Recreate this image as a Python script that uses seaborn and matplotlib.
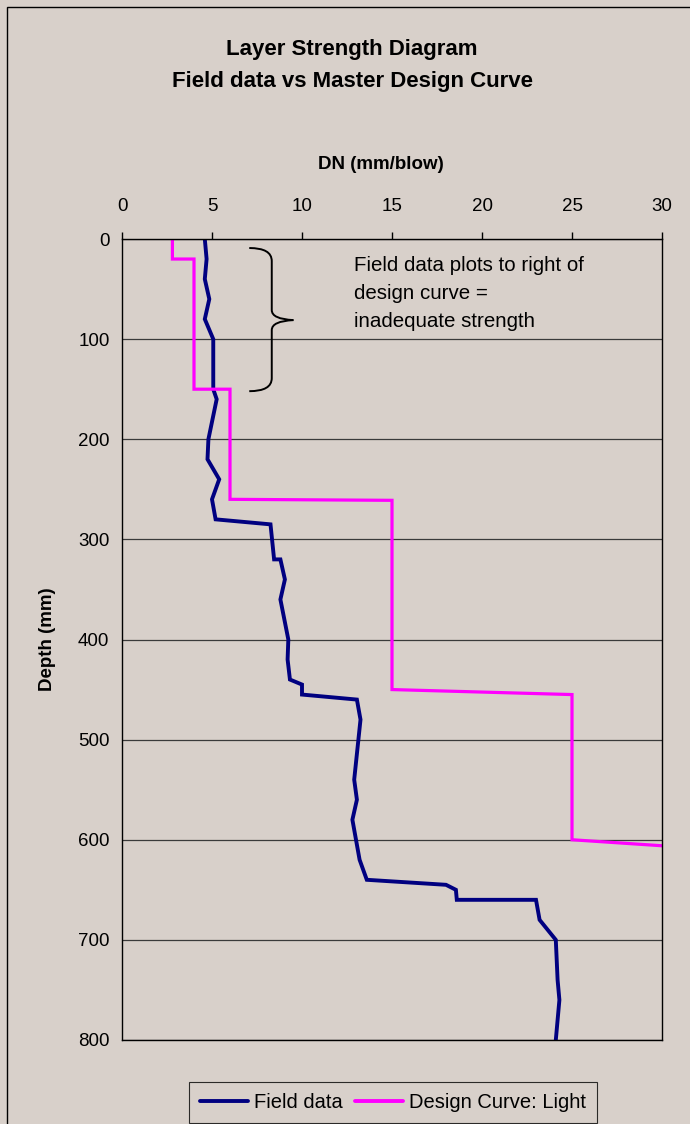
import numpy as np
import pandas as pd
import matplotlib
matplotlib.use('Agg')
import matplotlib.pyplot as plt
import matplotlib.patches as mpatches
from matplotlib.path import Path
import seaborn as sns

# field DCP results (depth in mm, DN in mm/blow)
field_depth = [0, 20, 40, 60, 80, 100, 150, 160, 200, 220, 240, 260, 280, 285,
               320, 320, 340, 360, 400, 420, 440, 445, 455, 460, 480, 540, 560,
               580, 620, 640, 645, 650, 660, 660, 680, 700, 740, 760, 800]
field_dn = [4.6, 4.7, 4.6, 4.85, 4.6, 5.07, 5.07, 5.26, 4.8, 4.75, 5.4, 5.0, 5.2, 8.25,
            8.45, 8.8, 9.05, 8.8, 9.24, 9.2, 9.33, 10.0, 10.0, 13.05, 13.25, 12.9, 13.05,
            12.8, 13.2, 13.6, 18.0, 18.55, 18.6, 23.0, 23.2, 24.1, 24.2, 24.3, 24.1]

# master design curve (light)
design_depth = [0, 20, 20, 150, 150, 260, 261, 450, 455, 600, 606]
design_dn = [2.8, 2.8, 4, 4, 6, 6, 15, 15, 25, 25, 30]

x_ticks = [0, 5, 10, 15, 20, 25, 30]
y_ticks = [0, 100, 200, 300, 400, 500, 600, 700, 800]

BG = '#D8D0CA'

sns.set_style('white')
plt.rcParams['font.family'] = ['Liberation Sans', 'DejaVu Sans']
plt.rcParams['text.color'] = 'black'
plt.rcParams['axes.labelcolor'] = 'black'
plt.rcParams['xtick.color'] = 'black'
plt.rcParams['ytick.color'] = 'black'

df = pd.concat([
    pd.DataFrame({'DN': field_dn, 'Depth': field_depth, 'Series': 'Field data'}),
    pd.DataFrame({'DN': design_dn, 'Depth': design_depth, 'Series': 'Design Curve: Light'}),
], ignore_index=True)

fig = plt.figure(figsize=(6.9, 11.24), dpi=100, facecolor=BG)
ax = fig.add_axes([122 / 690, 1 - 1040 / 1124, 540 / 690, 801 / 1124])
ax.set_facecolor(BG)

sns.lineplot(data=df, x='DN', y='Depth', hue='Series', estimator=None, sort=False,
             palette={'Field data': '#000080', 'Design Curve: Light': '#FF00FF'},
             linewidth=2.6, ax=ax, legend=False)
for ln, lw in zip(ax.lines, [2.8, 2.3]):
    ln.set_linewidth(lw)
    ln.set_solid_joinstyle('miter')

ax.set_xlim(0, 30)
ax.set_ylim(800, 0)
ax.set_xticks(x_ticks)
ax.set_yticks(y_ticks)
ax.xaxis.tick_top()
ax.xaxis.set_label_position('top')
ax.tick_params(axis='x', direction='out', length=5, width=1, pad=12, labelsize=13.5)
ax.tick_params(axis='y', direction='out', length=5, width=1, pad=4, labelsize=13.5)
ax.grid(axis='y', color='#3a3a3a', linewidth=0.9)
ax.set_axisbelow(True)
for s in ax.spines.values():
    s.set_color('black')
    s.set_linewidth(1)

ax.set_xlabel('DN (mm/blow)', fontsize=13.5, fontweight='bold')
ax.xaxis.set_label_coords(0.48, 1.087)
ax.set_ylabel('Depth (mm)', fontsize=13.5, fontweight='bold')
ax.yaxis.set_label_coords(-0.123, 0.5)

# curly brace + note
verts = [(7.07, 9), (8.32, 9), (8.32, 22),
         (8.32, 71), (8.32, 80), (9.52, 81),
         (8.32, 82), (8.32, 91), (8.32, 139),
         (8.32, 152), (7.07, 152)]
codes = [Path.MOVETO, Path.CURVE3, Path.CURVE3,
         Path.LINETO, Path.CURVE3, Path.CURVE3,
         Path.CURVE3, Path.CURVE3, Path.LINETO,
         Path.CURVE3, Path.CURVE3]
ax.add_patch(mpatches.PathPatch(Path(verts, codes), fill=False, lw=1.4, color='black'))
ax.text(12.9, 16.5, 'Field data plots to right of\ndesign curve =\ninadequate strength',
        fontsize=14.8, va='top', ha='left', linespacing=1.62)

fig.text(352 / 690, 1 - 65.5 / 1124, 'Layer Strength Diagram\nField data vs Master Design Curve',
         fontsize=16, fontweight='bold', ha='center', va='center', linespacing=1.66)

handles = [plt.Line2D([], [], color='#000080', lw=2.8),
           plt.Line2D([], [], color='#FF00FF', lw=2.8)]
leg = fig.legend(handles, ['Field data', 'Design Curve: Light'], loc='upper center',
                 bbox_to_anchor=(393 / 690, 1 - 1082 / 1124), ncol=2, fontsize=14.5,
                 frameon=True, fancybox=False, edgecolor='black', facecolor=BG,
                 handlelength=2.4, handletextpad=0.3, columnspacing=0.6,
                 borderpad=0.55, borderaxespad=0)
leg.get_frame().set_linewidth(0.8)

# chart area border (left/top edges visible)
fig.patches.append(mpatches.Rectangle((7 / 690, -0.1), 1.2, 1.1 - 7 / 1124,
                                      transform=fig.transFigure, fill=False,
                                      edgecolor='black', lw=1, figure=fig))

fig.savefig('out.png', dpi=100, facecolor=BG)
